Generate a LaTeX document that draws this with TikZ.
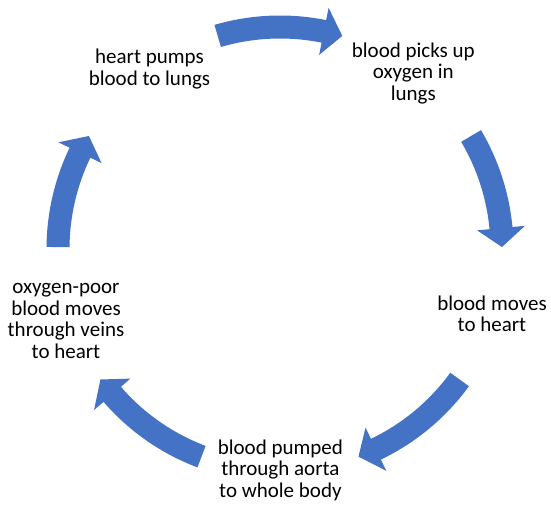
\documentclass[tikz,border=0pt]{standalone}
\usepackage{fontspec}
\setmainfont{Carlito}
\definecolor{arrowblue}{HTML}{4472C4}
\tikzset{
  cyclelabel/.style={align=center, inner sep=0pt, font=\fontsize{21}{21.7}\selectfont, text=black},
  arrowfill/.style={fill=arrowblue, draw=none}
}
\newcommand\cyclearrow[2]{%
  \pgfmathsetmacro\cahead{#2+4.9}%
  \fill[arrowfill] (#1:210.5) arc[start angle=#1, end angle=\cahead, radius=210.5]
    -- (\cahead:198) -- (#2:222) -- (\cahead:246) -- (\cahead:233.5)
    arc[start angle=\cahead, end angle=#1, radius=233.5] -- cycle;%
}
\begin{document}
\begin{tikzpicture}[x=1pt,y=1pt]
\useasboundingbox (0,0) rectangle (551,508);
\begin{scope}[shift={(280,259)}]
  \cyclearrow{106.3}{73.7}
  \cyclearrow{30.6}{0.5}
  \cyclearrow{-36}{-69.3}
  \cyclearrow{-110.7}{-144}
  \cyclearrow{179.5}{149.4}
\end{scope}
\node[cyclelabel] (pump) at (149.5,438.8) {heart pumps\\blood to lungs};
\node[cyclelabel] (oxy) at (413.3,434.6) {blood picks up\\oxygen in\\lungs};
\node[cyclelabel] (toheart) at (492,194.3) {blood moves\\to heart};
\node[cyclelabel] (aorta) at (280.4,37.6) {blood pumped\\through aorta\\to whole body};
\node[cyclelabel] (veins) at (66,187) {oxygen-poor\\blood moves\\through veins\\to heart};
\end{tikzpicture}
\end{document}
